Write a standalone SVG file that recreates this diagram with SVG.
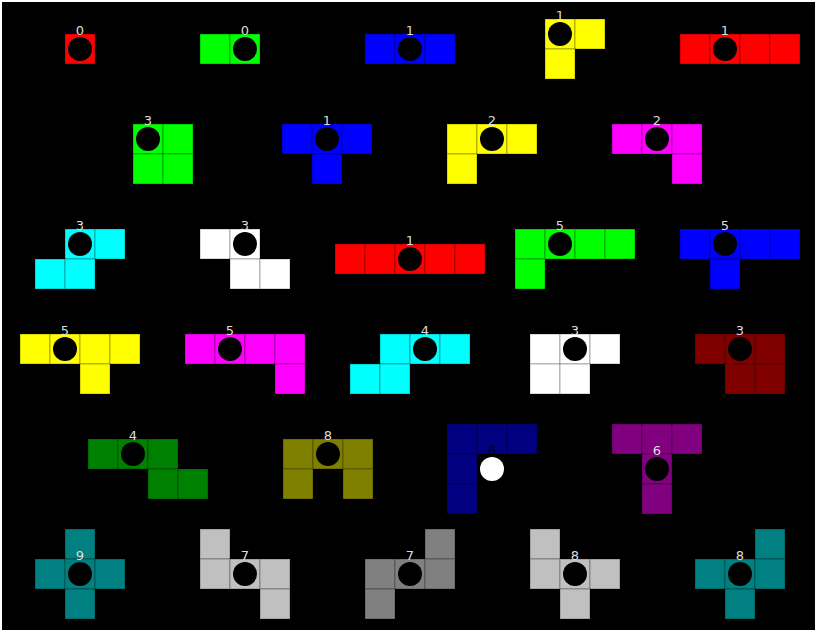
<svg xmlns="http://www.w3.org/2000/svg" width="817" height="632" viewBox="0 0 817 632">
<style>
rect.c{width:30px;height:30px;stroke:#000;stroke-opacity:0.3;stroke-width:1}
circle.d{fill:#000}
circle.w{fill:#fff}
text{font-family:"DejaVu Sans",sans-serif;font-size:13px;fill:#ddd;text-anchor:middle}
text.k{fill:#000}
</style>
<rect x="0" y="0" width="817" height="632" fill="#fff"/>
<rect x="2" y="2" width="813" height="628" fill="#000"/>
<g id="connectors"/>
<g id="p1" fill="#ff0000"><rect class="c" x="65" y="34"/><circle class="d" cx="80" cy="49" r="12"/><text x="80" y="35">0</text></g>
<g id="p2" fill="#00ff00"><rect class="c" x="200" y="34"/><rect class="c" x="230" y="34"/><circle class="d" cx="245" cy="49" r="12"/><text x="245" y="35">0</text></g>
<g id="p3" fill="#0000ff"><rect class="c" x="365" y="34"/><rect class="c" x="395" y="34"/><rect class="c" x="425" y="34"/><circle class="d" cx="410" cy="49" r="12"/><text x="410" y="35">1</text></g>
<g id="p4" fill="#ffff00"><rect class="c" x="545" y="19"/><rect class="c" x="575" y="19"/><rect class="c" x="545" y="49"/><circle class="d" cx="560" cy="34" r="12"/><text x="560" y="20">1</text></g>
<g id="p5" fill="#ff0000"><rect class="c" x="680" y="34"/><rect class="c" x="710" y="34"/><rect class="c" x="740" y="34"/><rect class="c" x="770" y="34"/><circle class="d" cx="725" cy="49" r="12"/><text x="725" y="35">1</text></g>
<g id="p6" fill="#00ff00"><rect class="c" x="133" y="124"/><rect class="c" x="163" y="124"/><rect class="c" x="133" y="154"/><rect class="c" x="163" y="154"/><circle class="d" cx="148" cy="139" r="12"/><text x="148" y="125">3</text></g>
<g id="p7" fill="#0000ff"><rect class="c" x="282" y="124"/><rect class="c" x="312" y="124"/><rect class="c" x="342" y="124"/><rect class="c" x="312" y="154"/><circle class="d" cx="327" cy="139" r="12"/><text x="327" y="125">1</text></g>
<g id="p8" fill="#ffff00"><rect class="c" x="447" y="124"/><rect class="c" x="477" y="124"/><rect class="c" x="507" y="124"/><rect class="c" x="447" y="154"/><circle class="d" cx="492" cy="139" r="12"/><text x="492" y="125">2</text></g>
<g id="p9" fill="#ff00ff"><rect class="c" x="612" y="124"/><rect class="c" x="642" y="124"/><rect class="c" x="672" y="124"/><rect class="c" x="672" y="154"/><circle class="d" cx="657" cy="139" r="12"/><text x="657" y="125">2</text></g>
<g id="p10" fill="#00ffff"><rect class="c" x="65" y="229"/><rect class="c" x="95" y="229"/><rect class="c" x="35" y="259"/><rect class="c" x="65" y="259"/><circle class="d" cx="80" cy="244" r="12"/><text x="80" y="230">3</text></g>
<g id="p11" fill="#ffffff"><rect class="c" x="200" y="229"/><rect class="c" x="230" y="229"/><rect class="c" x="230" y="259"/><rect class="c" x="260" y="259"/><circle class="d" cx="245" cy="244" r="12"/><text x="245" y="230">3</text></g>
<g id="p12" fill="#ff0000"><rect class="c" x="335" y="244"/><rect class="c" x="365" y="244"/><rect class="c" x="395" y="244"/><rect class="c" x="425" y="244"/><rect class="c" x="455" y="244"/><circle class="d" cx="410" cy="259" r="12"/><text x="410" y="245">1</text></g>
<g id="p13" fill="#00ff00"><rect class="c" x="515" y="229"/><rect class="c" x="545" y="229"/><rect class="c" x="575" y="229"/><rect class="c" x="605" y="229"/><rect class="c" x="515" y="259"/><circle class="d" cx="560" cy="244" r="12"/><text x="560" y="230">5</text></g>
<g id="p14" fill="#0000ff"><rect class="c" x="680" y="229"/><rect class="c" x="710" y="229"/><rect class="c" x="740" y="229"/><rect class="c" x="770" y="229"/><rect class="c" x="710" y="259"/><circle class="d" cx="725" cy="244" r="12"/><text x="725" y="230">5</text></g>
<g id="p15" fill="#ffff00"><rect class="c" x="20" y="334"/><rect class="c" x="50" y="334"/><rect class="c" x="80" y="334"/><rect class="c" x="110" y="334"/><rect class="c" x="80" y="364"/><circle class="d" cx="65" cy="349" r="12"/><text x="65" y="335">5</text></g>
<g id="p16" fill="#ff00ff"><rect class="c" x="185" y="334"/><rect class="c" x="215" y="334"/><rect class="c" x="245" y="334"/><rect class="c" x="275" y="334"/><rect class="c" x="275" y="364"/><circle class="d" cx="230" cy="349" r="12"/><text x="230" y="335">5</text></g>
<g id="p17" fill="#00ffff"><rect class="c" x="380" y="334"/><rect class="c" x="410" y="334"/><rect class="c" x="440" y="334"/><rect class="c" x="350" y="364"/><rect class="c" x="380" y="364"/><circle class="d" cx="425" cy="349" r="12"/><text x="425" y="335">4</text></g>
<g id="p18" fill="#ffffff"><rect class="c" x="530" y="334"/><rect class="c" x="560" y="334"/><rect class="c" x="590" y="334"/><rect class="c" x="530" y="364"/><rect class="c" x="560" y="364"/><circle class="d" cx="575" cy="349" r="12"/><text x="575" y="335">3</text></g>
<g id="p19" fill="#800000"><rect class="c" x="695" y="334"/><rect class="c" x="725" y="334"/><rect class="c" x="755" y="334"/><rect class="c" x="725" y="364"/><rect class="c" x="755" y="364"/><circle class="d" cx="740" cy="349" r="12"/><text x="740" y="335">3</text></g>
<g id="p20" fill="#008000"><rect class="c" x="88" y="439"/><rect class="c" x="118" y="439"/><rect class="c" x="148" y="439"/><rect class="c" x="148" y="469"/><rect class="c" x="178" y="469"/><circle class="d" cx="133" cy="454" r="12"/><text x="133" y="440">4</text></g>
<g id="p21" fill="#808000"><rect class="c" x="283" y="439"/><rect class="c" x="313" y="439"/><rect class="c" x="343" y="439"/><rect class="c" x="283" y="469"/><rect class="c" x="343" y="469"/><circle class="d" cx="328" cy="454" r="12"/><text x="328" y="440">8</text></g>
<g id="p22" fill="#000080"><rect class="c" x="447" y="424"/><rect class="c" x="477" y="424"/><rect class="c" x="507" y="424"/><rect class="c" x="447" y="454"/><rect class="c" x="447" y="484"/><circle class="w" cx="492" cy="469" r="12"/><text class="k" x="492" y="455">6</text></g>
<g id="p23" fill="#800080"><rect class="c" x="612" y="424"/><rect class="c" x="642" y="424"/><rect class="c" x="672" y="424"/><rect class="c" x="642" y="454"/><rect class="c" x="642" y="484"/><circle class="d" cx="657" cy="469" r="12"/><text x="657" y="455">6</text></g>
<g id="p24" fill="#008080"><rect class="c" x="65" y="529"/><rect class="c" x="35" y="559"/><rect class="c" x="65" y="559"/><rect class="c" x="95" y="559"/><rect class="c" x="65" y="589"/><circle class="d" cx="80" cy="574" r="12"/><text x="80" y="560">9</text></g>
<g id="p25" fill="#c0c0c0"><rect class="c" x="200" y="529"/><rect class="c" x="200" y="559"/><rect class="c" x="230" y="559"/><rect class="c" x="260" y="559"/><rect class="c" x="260" y="589"/><circle class="d" cx="245" cy="574" r="12"/><text x="245" y="560">7</text></g>
<g id="p26" fill="#808080"><rect class="c" x="425" y="529"/><rect class="c" x="365" y="559"/><rect class="c" x="395" y="559"/><rect class="c" x="425" y="559"/><rect class="c" x="365" y="589"/><circle class="d" cx="410" cy="574" r="12"/><text x="410" y="560">7</text></g>
<g id="p27" fill="#c0c0c0"><rect class="c" x="530" y="529"/><rect class="c" x="530" y="559"/><rect class="c" x="560" y="559"/><rect class="c" x="590" y="559"/><rect class="c" x="560" y="589"/><circle class="d" cx="575" cy="574" r="12"/><text x="575" y="560">8</text></g>
<g id="p28" fill="#008080"><rect class="c" x="755" y="529"/><rect class="c" x="695" y="559"/><rect class="c" x="725" y="559"/><rect class="c" x="755" y="559"/><rect class="c" x="725" y="589"/><circle class="d" cx="740" cy="574" r="12"/><text x="740" y="560">8</text></g>
</svg>
